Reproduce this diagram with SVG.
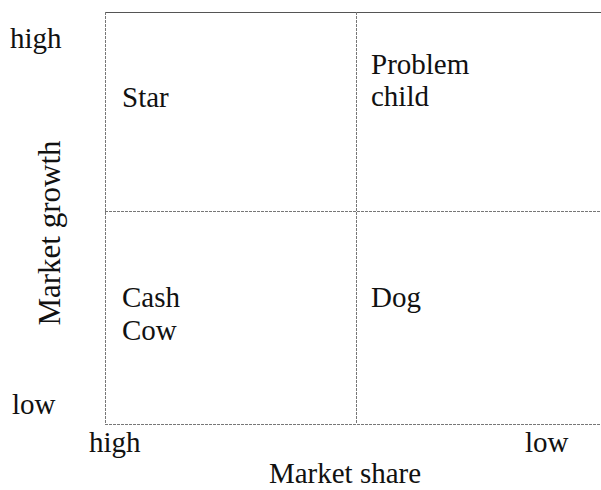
<svg xmlns="http://www.w3.org/2000/svg" width="601" height="490" viewBox="0 0 601 490">
<style>
text{font-family:"Liberation Serif","Times New Roman",serif;font-size:29px;fill:#111}
.ln{stroke:#777;stroke-width:1;fill:none;stroke-dasharray:3 1}
.sol{stroke:#555;stroke-width:1;fill:none}
</style>
<rect width="601" height="490" fill="#fff"/>
<g id="connectors">
<line class="sol" x1="105" y1="12.5" x2="601" y2="12.5"/>
<line class="ln" x1="105.5" y1="12" x2="105.5" y2="424"/>
<line class="ln" x1="105" y1="424.5" x2="601" y2="424.5"/>
<line class="ln" x1="356.5" y1="12" x2="356.5" y2="424"/>
<line class="ln" x1="105" y1="211.5" x2="601" y2="211.5"/>
</g>
<g id="axis-y-high"><text x="10" y="48">high</text></g>
<g id="axis-y-low"><text x="12" y="414">low</text></g>
<g id="axis-y-label"><text transform="translate(60,233) rotate(-90)" text-anchor="middle" style="font-size:31px">Market growth</text></g>
<g id="axis-x-high"><text x="89" y="452">high</text></g>
<g id="axis-x-low"><text x="525" y="452">low</text></g>
<g id="axis-x-label"><text x="345" y="483" text-anchor="middle">Market share</text></g>
<g id="star"><text x="122" y="107">Star</text></g>
<g id="problem-child"><text x="371" y="74">Problem</text><text x="371" y="106">child</text></g>
<g id="cash-cow"><text x="122" y="307">Cash</text><text x="122" y="340">Cow</text></g>
<g id="dog"><text x="371" y="307">Dog</text></g>
</svg>
